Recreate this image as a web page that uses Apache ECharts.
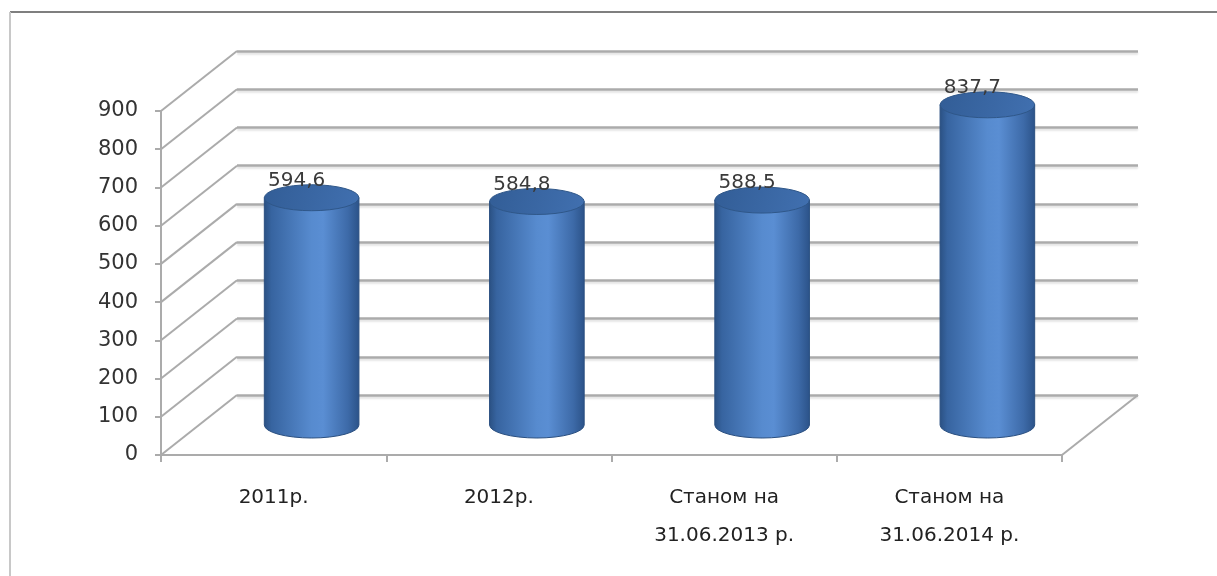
<!DOCTYPE html>
<html>
<head>
<meta charset="utf-8">
<script src="https://cdn.jsdelivr.net/npm/echarts@6/dist/echarts.min.js"></script>
<style>
html,body{margin:0;padding:0;background:#fff;}
#c{width:1217px;height:576px;}
</style>
</head>
<body>
<div id="c"></div>
<script>
// ---- data ----
const categories = ['2011р.', '2012р.', 'Станом на\n31.06.2013 р.', 'Станом на\n31.06.2014 р.'];
const values = [594.6, 584.8, 588.5, 837.7];
const yTicks = [0, 100, 200, 300, 400, 500, 600, 700, 800, 900];
const yMin = 0, yMax = 900, yStep = 100;

// ---- style constants ----
const FONT = 'DejaVu Sans';
const DX = 76, DY = 60;           // depth offset front -> back (px)
const GRID_COLOR = '#ababab';

const chart = echarts.init(document.getElementById('c'), null, {renderer: 'canvas'});

function fmt(v) { return String(v).replace('.', ','); }

const yBase = {type: 'value', min: yMin, max: yMax, interval: yStep};

const option = {
  animation: false,
  backgroundColor: '#fff',
  graphic: [
    {type: 'line', shape: {x1: 10, y1: 12, x2: 1217, y2: 12}, style: {stroke: '#7f7f7f', lineWidth: 2}, z: 100},
    {type: 'line', shape: {x1: 10, y1: 12, x2: 10, y2: 576}, style: {stroke: '#c8c8c8', lineWidth: 2}, z: 100}
  ],
  grid: [
    {left: 161, right: 155, top: 111, bottom: 121},   // front plane
    {left: 237, right: 79, top: 51, bottom: 181},     // back wall
    {left: 199, right: 117, top: 81, bottom: 151}     // mid plane (bars)
  ],
  xAxis: [
    {
      type: 'category', gridIndex: 0, data: categories, boundaryGap: true,
      axisLine: {show: true, lineStyle: {color: GRID_COLOR, width: 2}},
      axisTick: {show: true, length: 7, alignWithLabel: false, lineStyle: {color: GRID_COLOR, width: 2}},
      axisLabel: {fontFamily: FONT, fontSize: 20, color: '#222', margin: 24, lineHeight: 38, interval: 0},
      splitLine: {show: false}
    },
    {type: 'category', gridIndex: 1, data: categories, show: false},
    {type: 'category', gridIndex: 2, data: categories, show: false}
  ],
  yAxis: [
    Object.assign({}, yBase, {
      gridIndex: 0,
      axisLine: {show: true, lineStyle: {color: GRID_COLOR, width: 2}},
      axisTick: {show: true, length: 6, lineStyle: {color: GRID_COLOR, width: 2}},
      axisLabel: {fontFamily: FONT, fontSize: 21, color: '#333', margin: 23},
      splitLine: {show: false}
    }),
    Object.assign({}, yBase, {
      gridIndex: 1,
      axisLine: {show: false}, axisTick: {show: false}, axisLabel: {show: false},
      splitLine: {show: true, lineStyle: {color: GRID_COLOR, width: 2.5, shadowColor: 'rgba(0,0,0,0.12)', shadowBlur: 2, shadowOffsetY: 2}}
    }),
    Object.assign({}, yBase, {
      gridIndex: 2, show: false, splitLine: {show: false}
    })
  ],
  series: [
    {
      // depth lines from front axis to back wall
      type: 'custom', xAxisIndex: 1, yAxisIndex: 1, z: 1, silent: true,
      data: yTicks.map(v => [0, v]),
      renderItem: function (params, api) {
        const cs = params.coordSys;
        const y = api.coord([0, api.value(1)])[1];
        const children = [{
          type: 'line',
          shape: {x1: cs.x, y1: y, x2: cs.x - DX, y2: y + DY},
          style: {stroke: GRID_COLOR, lineWidth: 2}
        }];
        if (api.value(1) === yMin) {
          children.push({
            type: 'line',
            shape: {x1: cs.x + cs.width, y1: y, x2: cs.x + cs.width - DX, y2: y + DY},
            style: {stroke: GRID_COLOR, lineWidth: 2}
          });
        }
        return {type: 'group', children: children};
      }
    },
    {
      // cylinders
      type: 'custom', xAxisIndex: 2, yAxisIndex: 2, z: 5,
      data: values.map((v, i) => [i, v]),
      renderItem: function (params, api) {
        const i = api.value(0), v = api.value(1);
        const top = api.coord([i, v]);
        const base = api.coord([i, yMin]);
        const w = api.size([1, 0])[0] * 0.42;
        const rx = w / 2, ry = 13;
        const cx = top[0];
        const x0 = cx - rx, x1 = cx + rx;
        const yt = top[1], yb = base[1];
        const bodyFill = new echarts.graphic.LinearGradient(0, 0, 1, 0, [
          {offset: 0, color: '#2a5082'},
          {offset: 0.08, color: '#3764a0'},
          {offset: 0.5, color: '#578bcf'},
          {offset: 0.62, color: '#5a8ed3'},
          {offset: 0.88, color: '#3d6aa8'},
          {offset: 1, color: '#2b5288'}
        ]);
        const topFill = new echarts.graphic.LinearGradient(0, 0, 1, 1, [
          {offset: 0, color: '#325d96'},
          {offset: 1, color: '#4170b0'}
        ]);
        const bodyPath = 'M' + x0 + ' ' + yt + ' L' + x0 + ' ' + yb +
          ' A' + rx + ' ' + ry + ' 0 0 0 ' + x1 + ' ' + yb +
          ' L' + x1 + ' ' + yt + ' Z';
        const topPath = 'M' + x0 + ' ' + yt +
          ' A' + rx + ' ' + ry + ' 0 1 0 ' + x1 + ' ' + yt +
          ' A' + rx + ' ' + ry + ' 0 1 0 ' + x0 + ' ' + yt + ' Z';
        return {
          type: 'group',
          children: [
            {type: 'path', shape: {pathData: bodyPath}, style: {fill: bodyFill, stroke: '#2a4f80', lineWidth: 1}},
            {type: 'path', shape: {pathData: topPath}, style: {fill: topFill, stroke: '#2f5789', lineWidth: 1}},
            {type: 'text', style: {
              x: cx - 15, y: yt - 17, text: fmt(v), fill: '#3a3a3a',
              font: '20px "' + FONT + '"', align: 'center', verticalAlign: 'middle'
            }}
          ]
        };
      }
    }
  ]
};
chart.setOption(option);
</script>
</body>
</html>
